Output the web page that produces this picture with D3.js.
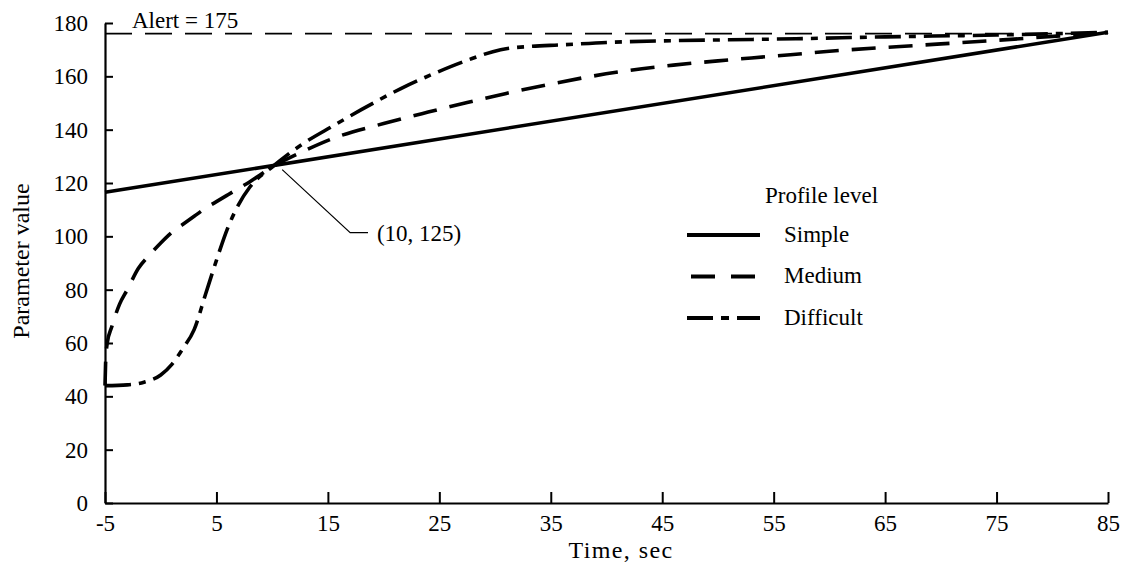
<!DOCTYPE html>
<html>
<head>
<meta charset="utf-8">
<script src="https://cdn.jsdelivr.net/npm/d3@7"></script>
<style>
  html, body { margin: 0; padding: 0; background: #fff; }
  svg { display: block; }
  text { font-family: "Liberation Serif", "Times New Roman", serif; fill: #000; }
</style>
</head>
<body>
<svg id="chart" width="1122" height="565"></svg>
<script>
// ---------------- data ----------------
const xTicks = [-5, 5, 15, 25, 35, 45, 55, 65, 75, 85];
const yTicks = [0, 20, 40, 60, 80, 100, 120, 140, 160, 180];
const xDomain = [-5, 85];
const yDomain = [0, 180];

const simpleTime  = [-5, 85];
const simpleValue = [116.5, 176.5];

const mediumTime  = [-5, -4.95, -4.8, -4.4, -3.7, -3, -2, -1, 0, 1, 2, 3, 4, 5, 6, 7, 8, 10, 12.5, 15.5, 20, 24, 27.5, 31, 35, 38.5, 42, 46, 50, 53, 56.5, 60, 66, 75, 85];
const mediumValue = [44, 52, 60, 66, 74.5, 80, 88, 93, 97.5, 101.5, 104.5, 107.5, 110.5, 113, 115.5, 118, 120.5, 126, 131.3, 136.8, 142.3, 146.6, 150.2, 153.6, 157.1, 159.9, 162.2, 164.2, 165.8, 166.9, 168.1, 169.4, 171.1, 173.5, 176.5];

const difficultTime  = [-5, -3, -1.5, 0, 1, 2, 3, 4, 5, 6, 7, 8, 10, 12.5, 15.5, 18, 21.5, 24.5, 27.5, 30.5, 33, 36, 40, 45, 51, 57, 65, 75, 85];
const difficultValue = [44, 44.3, 45.3, 48, 52, 58, 65, 78, 91, 103, 112, 118.5, 126, 134, 141.5, 147.5, 155.3, 161, 166, 170, 171.2, 171.8, 172.7, 173.3, 173.7, 174.1, 174.8, 175.5, 176.5];

const alertLabel = "Alert = 175";
const alertLineValue = 176;

const seriesNames = ["Simple", "Medium", "Difficult"];
const seriesDash  = [null, "24,13", "26,8,7,8"];
const legendDash  = [null, "24,16", "26,8,8,8"];

const annotationLabel = "(10, 125)";
const annotationPath  = [[10.9, 125], [17.0, 101.4], [18.6, 101.4]];
const annotationText  = [19.4, 98.3];

const xTitle = "Time, sec";
const yTitle = "Parameter value";
const legendTitle = "Profile level";

// ---------------- drawing ----------------
const svg = d3.select("#chart");
const x = d3.scaleLinear().domain(xDomain).range([105, 1108]);
const y = d3.scaleLinear().domain(yDomain).range([503, 23]);

// alert line
svg.append("line")
  .attr("x1", x(xDomain[0])).attr("x2", x(xDomain[1]))
  .attr("y1", y(alertLineValue)).attr("y2", y(alertLineValue))
  .attr("stroke", "#000").attr("stroke-width", 1.8)
  .attr("stroke-dasharray", "27,13");

svg.append("text")
  .attr("x", 132).attr("y", 28)
  .attr("font-size", 23)
  .text(alertLabel);

// axes
const yAxis = d3.axisLeft(y).tickValues(yTicks).tickSizeInner(-8).tickSizeOuter(0).tickPadding(17);
const xAxis = d3.axisBottom(x).tickValues(xTicks).tickSizeInner(-11).tickSizeOuter(0).tickPadding(12)
  .tickFormat(d3.format("d"));

const gy = svg.append("g").attr("transform", `translate(${x(xDomain[0])},0)`).call(yAxis);
const gx = svg.append("g").attr("transform", `translate(0,${y(0)})`).call(xAxis);
[gx, gy].forEach(g => {
  g.select(".domain").attr("stroke", "#000").attr("stroke-width", 2.2);
  g.selectAll(".tick line").attr("stroke", "#000").attr("stroke-width", 2);
  g.selectAll(".tick text")
    .attr("font-family", '"Liberation Serif", "Times New Roman", serif')
    .attr("font-size", 23).attr("fill", "#000");
});
gx.select(".tick text").text("-5");

// axis titles
svg.append("text")
  .attr("x", 621).attr("y", 558)
  .attr("text-anchor", "middle")
  .attr("font-size", 24)
  .attr("letter-spacing", 1.4)
  .text(xTitle);

svg.append("text")
  .attr("transform", "translate(29,261) rotate(-90)")
  .attr("text-anchor", "middle")
  .attr("font-size", 24)
  .text(yTitle);

// series
const line = d3.line().x(d => x(d[0])).y(d => y(d[1])).curve(d3.curveMonotoneX);
const series = [
  d3.zip(simpleTime, simpleValue),
  d3.zip(mediumTime, mediumValue),
  d3.zip(difficultTime, difficultValue)
];
series.forEach((pts, i) => {
  svg.append("path")
    .attr("d", line(pts))
    .attr("fill", "none")
    .attr("stroke", "#000")
    .attr("stroke-width", 3.6)
    .attr("stroke-dasharray", seriesDash[i]);
});

// annotation
svg.append("path")
  .attr("d", d3.line().x(d => x(d[0])).y(d => y(d[1]))(annotationPath))
  .attr("fill", "none").attr("stroke", "#000").attr("stroke-width", 1.2);
svg.append("text")
  .attr("x", x(annotationText[0])).attr("y", y(annotationText[1]))
  .attr("font-size", 23)
  .text(annotationLabel);

// legend
svg.append("text")
  .attr("x", 765).attr("y", 203)
  .attr("font-size", 23)
  .text(legendTitle);

const legend = svg.append("g");
seriesNames.forEach((name, i) => {
  const ly = 235 + i * 41.5;
  legend.append("line")
    .attr("x1", i === 1 ? 691 : 687).attr("x2", 760)
    .attr("y1", ly).attr("y2", ly)
    .attr("stroke", "#000").attr("stroke-width", 3.8)
    .attr("stroke-dasharray", legendDash[i]);
  legend.append("text")
    .attr("x", 784).attr("y", ly + 6.5)
    .attr("font-size", 23)
    .text(name);
});
</script>
</body>
</html>
